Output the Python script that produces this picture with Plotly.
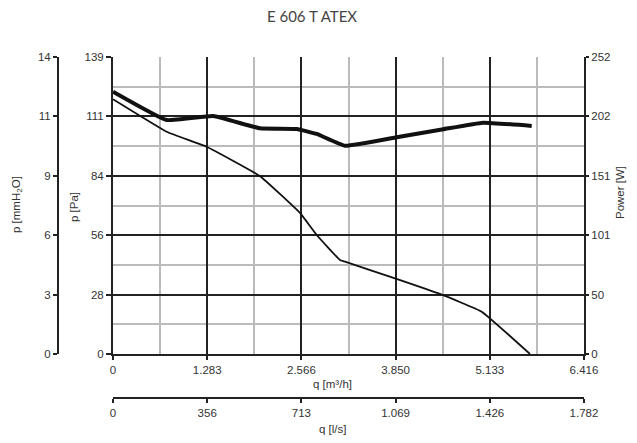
import plotly.graph_objects as go

# ---- data ----
q_p = [0, 731, 1276, 2000, 2547, 2775, 3092, 3160, 3841, 4454, 5022, 5680]
p_pa = [119.2, 104.0, 97.0, 83.3, 66.0, 55.7, 44.0, 43.2, 35.4, 28.1, 19.8, 0]

q_w = [0, 731, 1366, 2000, 2503, 2775, 3160, 3865, 4500, 5039, 5704]
power_w = [222.6, 198.5, 201.9, 191.5, 190.9, 186.7, 176.7, 183.9, 190.7, 196.3, 193.5]

x_ticks = [0, 1283.2, 2566.4, 3849.6, 5132.8, 6416]
x_text = ["0", "1.283", "2.566", "3.850", "5.133", "6.416"]
x2_ticks = [0, 356.4, 712.8, 1069.2, 1425.6, 1782]
x2_text = ["0", "356", "713", "1.069", "1.426", "1.782"]
y_ticks = [0, 27.8, 55.6, 83.4, 111.2, 139]
y_text = ["0", "28", "56", "84", "111", "139"]
ymm_text = ["0", "3", "6", "9", "11", "14"]
yw_ticks = [0, 50.4, 100.8, 151.2, 201.6, 252]
yw_text = ["0", "50", "101", "151", "202", "252"]

W, H = 637, 443
OFF = 8  # page body margin offset
L, R, T, B = 113 - OFF, 584 - OFF, 57 - OFF, 354 - OFF


def px(x):
    return (x - OFF) / W


def py(y):
    return 1 - (y - OFF) / H


dark = "#222222"
minorc = "#bbbbbb"
tf = dict(family="Liberation Sans, Arial, sans-serif", size=11.5, color="#333333")

fig = go.Figure()
fig.add_trace(go.Scatter(x=q_p, y=p_pa, mode="lines", xaxis="x", yaxis="y",
                         line=dict(color="#111111", width=1.8, shape="spline", smoothing=0.3),
                         hoverinfo="skip", showlegend=False))
fig.add_trace(go.Scatter(x=q_w, y=power_w, mode="lines", xaxis="x", yaxis="y2",
                         line=dict(color="#111111", width=4, shape="spline", smoothing=0.3),
                         hoverinfo="skip", showlegend=False))
# helper traces so the extra axes are drawn
fig.add_trace(go.Scatter(x=[0], y=[0], mode="markers", xaxis="x2", yaxis="y",
                         marker=dict(opacity=0), hoverinfo="skip", showlegend=False))
fig.add_trace(go.Scatter(x=[0], y=[0], mode="markers", xaxis="x", yaxis="y3",
                         marker=dict(opacity=0), hoverinfo="skip", showlegend=False))

xdom = [L / W, R / W]
ydom = [1 - B / H, 1 - T / H]

common = dict(automargin=False, zeroline=False, tickfont=tf, tickcolor=dark, tickwidth=1.5,
              showline=True, linecolor=dark, linewidth=2, ticks="outside", tickmode="array")

fig.update_layout(
    width=W, height=H, autosize=False,
    margin=dict(l=0, r=0, t=0, b=0, autoexpand=False),
    paper_bgcolor="white", plot_bgcolor="white",
    title=dict(text="E 606 T ATEX", x=px(312), xanchor="center", y=py(17), yanchor="middle",
               font=dict(family="Lato, sans-serif", size=15, color="#444444")),
    xaxis=dict(domain=xdom, range=[0, 6416], anchor="y",
               tickvals=x_ticks, ticktext=x_text,
               showgrid=True, gridcolor=dark, gridwidth=2,
               minor=dict(tick0=0, dtick=641.6, showgrid=True, gridcolor=minorc, gridwidth=2),
               ticklen=4, **common),
    xaxis2=dict(overlaying="x", anchor="free", position=py(398), range=[0, 1782],
                tickvals=x2_ticks, ticktext=x2_text, showgrid=False,
                ticklen=4, **common),
    yaxis=dict(domain=ydom, range=[0, 139], anchor="x",
               tickvals=y_ticks, ticktext=y_text,
               showgrid=True, gridcolor=dark, gridwidth=2,
               minor=dict(tick0=0, dtick=13.9, showgrid=True, gridcolor=minorc, gridwidth=2),
               ticklen=5, **common),
    yaxis2=dict(overlaying="y", side="right", anchor="x", range=[0, 252],
                tickvals=yw_ticks, ticktext=yw_text, showgrid=False,
                ticklen=3, **common),
    yaxis3=dict(overlaying="y", side="left", anchor="free", position=px(58), range=[0, 139],
                tickvals=y_ticks, ticktext=ymm_text, showgrid=False,
                ticklen=4, **common),
)

lf = dict(family="Liberation Sans, Arial, sans-serif", size=11.5, color="#333333")
ann = [
    dict(text="p [mmH<sub>2</sub>O]", x=17, y=205, textangle=-90),
    dict(text="p [Pa]", x=74, y=207, textangle=-90),
    dict(text="Power [W]", x=620, y=193, textangle=-90),
    dict(text="q [m³/h]", x=332, y=384, textangle=0),
    dict(text="q [l/s]", x=332, y=429, textangle=0),
]
for a in ann:
    fig.add_annotation(text=a["text"], x=px(a["x"]), y=py(a["y"]), xref="paper", yref="paper",
                       xanchor="center", yanchor="middle", textangle=a["textangle"],
                       showarrow=False, font=lf)

fig.write_html("out.html")
